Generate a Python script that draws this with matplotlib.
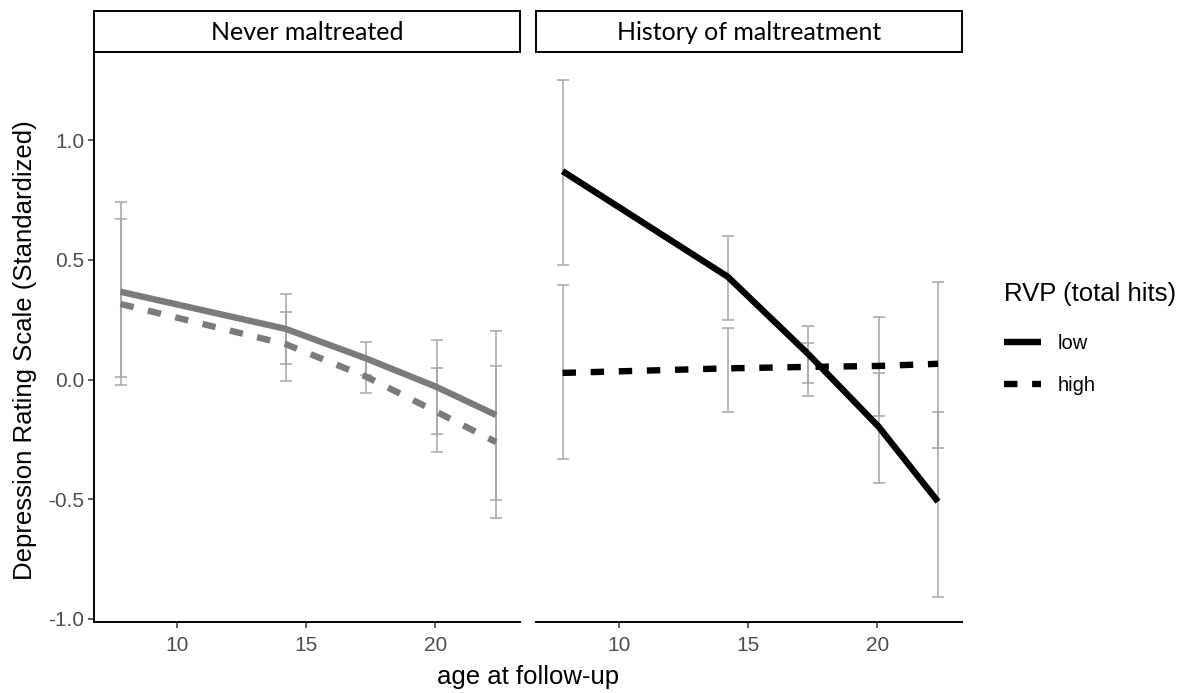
import numpy as np
import matplotlib
matplotlib.use("Agg")
import matplotlib.pyplot as plt
from matplotlib.lines import Line2D

# ages at follow-up (same waves in both panels)
ages = [7.8, 14.2, 17.3, 20.05, 22.35]

# Never maltreated
never_low = [0.367, 0.212, 0.089, -0.031, -0.148]
never_low_lo = [0.012, 0.064, 0.020, -0.228, -0.503]
never_low_hi = [0.742, 0.356, 0.157, 0.164, 0.203]
never_high = [0.316, 0.148, 0.013, -0.135, -0.261]
never_high_lo = [-0.023, -0.005, -0.058, -0.302, -0.579]
never_high_hi = [0.672, 0.283, 0.085, 0.047, 0.057]

# History of maltreatment
hist_low = [0.871, 0.430, 0.109, -0.197, -0.510]
hist_low_lo = [0.479, 0.249, -0.013, -0.434, -0.910]
hist_low_hi = [1.252, 0.602, 0.224, 0.026, -0.134]
hist_high = [0.028, 0.047, 0.053, 0.057, 0.066]
hist_high_lo = [-0.332, -0.134, -0.067, -0.152, -0.287]
hist_high_hi = [0.394, 0.214, 0.155, 0.263, 0.409]

panel_titles = ["Never maltreated", "History of maltreatment"]
legend_labels = ["low", "high"]
y_ticks = [-1.0, -0.5, 0.0, 0.5, 1.0]
x_ticks = [10, 15, 20]

W, H = 1196, 693
fig = plt.figure(figsize=(W / 100, H / 100), dpi=100)

def px(l, t, r, b):
    return [l / W, (H - b) / H, (r - l) / W, (b - t) / H]

ax1 = fig.add_axes(px(94, 52, 520, 622))
ax2 = fig.add_axes(px(536, 52, 962, 622))

sans = ["Liberation Sans", "DejaVu Sans"]
dash = (2.1, 2.3)
err_col = "#a6a6a6"

def draw(ax, low, low_lo, low_hi, high, high_lo, high_hi, col):
    x = np.array(ages)
    for m, lo, hi in [(low, low_lo, low_hi), (high, high_lo, high_hi)]:
        m, lo, hi = np.array(m), np.array(lo), np.array(hi)
        ax.errorbar(x, m, yerr=[m - lo, hi - m], fmt="none", ecolor=err_col,
                    elinewidth=1.1, capsize=4.5, capthick=1.1, zorder=2)
    ax.plot(x, low, color=col, lw=4.6, solid_capstyle="butt", zorder=3)
    ax.plot(x, high, color=col, lw=4.6, dashes=dash, dash_capstyle="butt", zorder=3)

draw(ax1, never_low, never_low_lo, never_low_hi, never_high, never_high_lo, never_high_hi, "#7b7b7b")
draw(ax2, hist_low, hist_low_lo, hist_low_hi, hist_high, hist_high_lo, hist_high_hi, "black")

for ax in (ax1, ax2):
    ax.set_xlim(6.77, 23.28)
    ax.set_ylim(-1.013, 1.369)
    ax.set_xticks(x_ticks)
    ax.set_xticklabels([str(t) for t in x_ticks], fontsize=15, color="#4d4d4d", family=sans)
    ax.tick_params(axis="x", length=4, width=1.1, color="#333333", pad=6)
    for s in ("top", "right"):
        ax.spines[s].set_visible(False)
    ax.spines["bottom"].set_linewidth(1.4)
    ax.spines["left"].set_linewidth(1.4)

ax1.set_yticks(y_ticks)
ax1.set_yticklabels([f"{t:.1f}" for t in y_ticks], fontsize=15, color="#4d4d4d", family=sans)
ax1.tick_params(axis="y", length=4, width=1.1, color="#333333", pad=3)
ax2.spines["left"].set_visible(False)
ax2.set_yticks([])

# facet strips
for ax, title in zip((ax1, ax2), panel_titles):
    pos = ax.get_position()
    sax = fig.add_axes([pos.x0, (H - 52) / H, pos.width, (52 - 11) / H])
    sax.set_xticks([])
    sax.set_yticks([])
    for s in sax.spines.values():
        s.set_linewidth(1.4)
    sax.text(0.5, 0.47, title, ha="center", va="center", fontsize=18,
             family=["Lato", "DejaVu Sans"], transform=sax.transAxes)

fig.text(528 / W, 1 - 677 / H, "age at follow-up", ha="center", va="center",
         fontsize=18.5, family=sans)
fig.text(25 / W, 1 - 350 / H, "Depression Rating Scale (Standardized)", ha="center",
         va="center", rotation=90, fontsize=18.5, family=sans)

handles = [Line2D([], [], color="black", lw=4.6, solid_capstyle="butt"),
           Line2D([], [], color="black", lw=4.6, dashes=dash, dash_capstyle="butt")]
leg = fig.legend(handles, legend_labels, title="RVP (total hits)", loc="upper left",
                 bbox_to_anchor=(986 / W, 1 - 264 / H), frameon=False,
                 prop={"family": sans, "size": 14.5}, handlelength=1.85,
                 handletextpad=0.8, labelspacing=1.15)
leg.get_title().set_fontsize(18.5)
leg.get_title().set_family(sans)
leg._legend_box.align = "left"
leg._legend_box.sep = 20

fig.savefig("out.png", dpi=100)
